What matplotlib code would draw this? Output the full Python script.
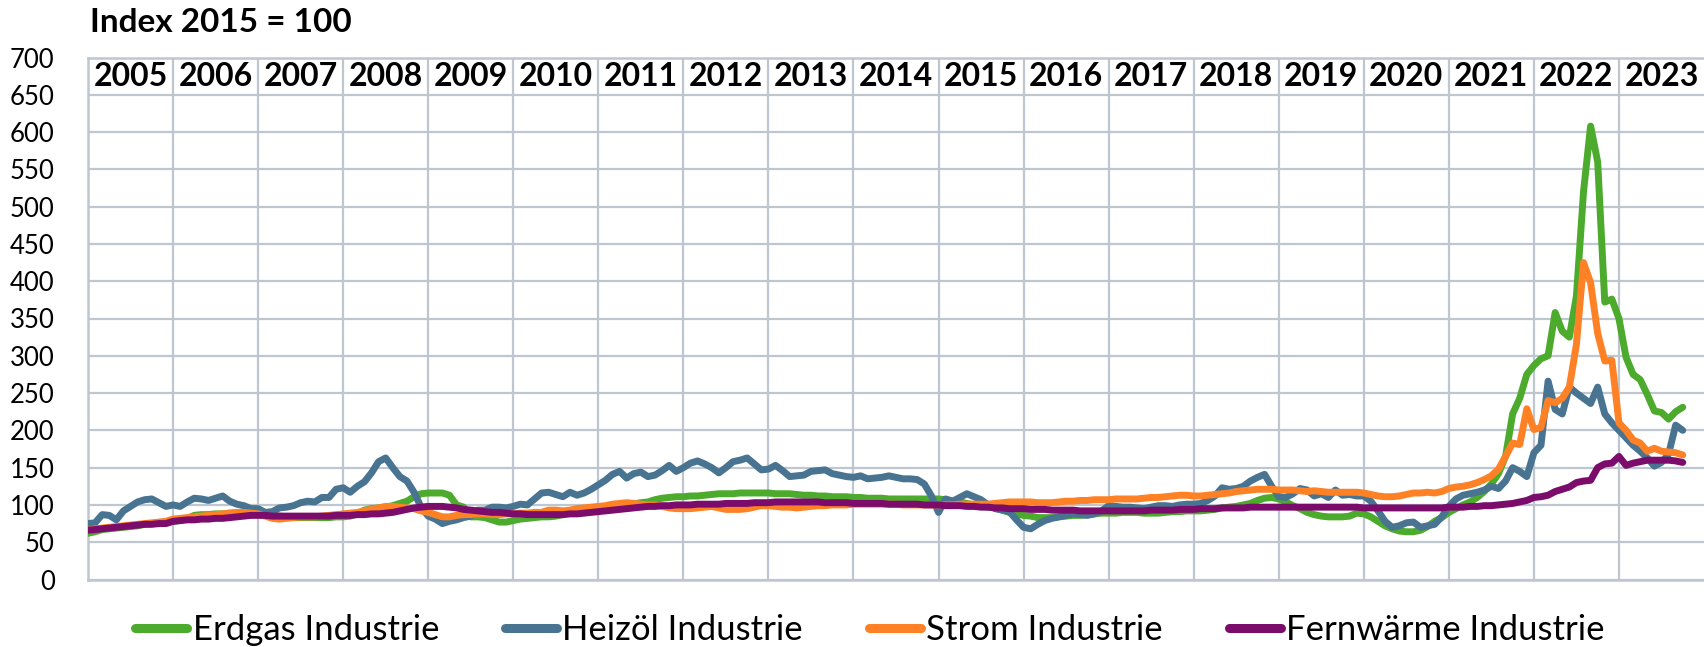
import numpy as np
import matplotlib
matplotlib.use("Agg")
import matplotlib.pyplot as plt
from matplotlib.lines import Line2D

plt.rcParams['font.family'] = ['Lato', 'DejaVu Sans']

# Monthly price indices (2015 = 100), January 2005 to October 2023
years = [str(y) for y in range(2005, 2024)]

erdgas = [
    62, 64, 67, 68, 69, 70, 71, 72, 74, 75, 76, 77,
    78, 79, 82, 86, 87, 87, 88, 88, 89, 89, 91, 92,
    90, 87, 86, 85, 84, 83, 83, 83, 83, 83, 83, 84,
    84, 85, 88, 93, 95, 96, 97, 99, 102, 105, 111, 115,
    116, 116, 116, 113, 100, 97, 84, 84, 83, 80, 77, 77,
    79, 81, 82, 83, 84, 84, 85, 87, 90, 91, 93, 94,
    95, 96, 98, 99, 100, 101, 103, 104, 107, 109, 110, 111,
    111, 112, 112, 113, 114, 115, 115, 115, 116, 116, 116, 116,
    116, 115, 115, 115, 114, 113, 113, 112, 112, 111, 111, 111,
    110, 110, 109, 109, 109, 108, 108, 108, 108, 108, 108, 108,
    108, 107, 105, 104, 102, 100, 99, 97, 96, 93, 90, 88,
    86, 85, 83, 83, 83, 84, 85, 86, 86, 87, 88, 89,
    89, 89, 90, 90, 90, 89, 89, 89, 90, 91, 91, 92,
    92, 92, 93, 94, 96, 97, 98, 100, 102, 106, 109, 110,
    108, 104, 99, 95, 90, 87, 85, 84, 84, 84, 85, 89,
    88, 84, 78, 72, 68, 65, 64, 64, 66, 71, 78, 83,
    90, 95, 100, 104, 110, 118, 128, 142, 165, 222, 243, 275,
    287, 296, 300, 358, 333, 325, 380, 520, 608, 560, 372, 376,
    350, 298, 275, 268, 248, 226, 224, 215, 225, 231,
]

heizoel = [
    75, 76, 87, 86, 80, 92, 98, 104, 107, 108, 103, 98,
    100, 98, 104, 109, 108, 106, 109, 112, 105, 101, 99, 95,
    95, 90, 91, 96, 97, 99, 103, 105, 104, 110, 110, 121,
    123, 117, 125, 131, 143, 158, 163, 150, 138, 132, 117, 97,
    85, 81, 75, 78, 80, 83, 85, 93, 93, 97, 97, 96,
    98, 101, 100, 108, 116, 117, 114, 111, 117, 113, 116, 121,
    127, 133, 141, 145, 136, 142, 144, 138, 140, 146, 153, 145,
    150, 156, 159, 155, 150, 143, 150, 158, 160, 163, 155, 147,
    148, 153, 146, 138, 139, 140, 145, 146, 147, 142, 140, 138,
    137, 139, 135, 136, 137, 139, 137, 135, 135, 134, 128, 112,
    90, 108, 105, 110, 115, 111, 107, 100, 95, 93, 91, 80,
    70, 68, 74, 79, 82, 84, 86, 88, 87, 86, 88, 92,
    99, 98, 97, 97, 96, 95, 97, 99, 99, 98, 100, 101,
    101, 102, 106, 112, 123, 121, 122, 125, 132, 137, 141, 125,
    111, 110, 115, 122, 120, 112, 115, 110, 120, 113, 114, 112,
    112, 105, 92, 78, 70, 72, 76, 77, 70, 72, 74, 84,
    98, 108, 113, 115, 117, 120, 125, 122, 132, 150, 145, 138,
    170, 180, 266, 228, 222, 258, 250, 243, 236, 258, 222, 210,
    200, 190, 180, 172, 163, 152, 157, 168, 207, 200,
]

strom = [
    66, 68, 69, 70, 71, 72, 73, 74, 75, 76, 77, 78,
    81, 82, 83, 84, 85, 86, 87, 88, 89, 90, 90, 89,
    88, 85, 82, 81, 82, 83, 84, 84, 84, 85, 86, 87,
    88, 89, 90, 92, 94, 96, 98, 98, 97, 96, 95, 92,
    90, 87, 84, 84, 86, 87, 87, 88, 88, 87, 87, 88,
    88, 89, 89, 90, 90, 93, 93, 92, 93, 95, 96, 97,
    98, 99, 101, 102, 103, 102, 101, 100, 100, 98, 96, 95,
    95, 95, 96, 97, 98, 96, 94, 94, 94, 95, 97, 99,
    99, 98, 97, 97, 96, 97, 98, 99, 99, 100, 100, 100,
    101, 101, 101, 101, 101, 101, 101, 100, 100, 100, 100, 100,
    100, 100, 100, 101, 101, 101, 101, 101, 102, 103, 104, 104,
    104, 104, 103, 103, 103, 104, 105, 105, 106, 106, 107, 107,
    107, 108, 108, 108, 108, 109, 110, 110, 111, 112, 113, 113,
    112, 112, 113, 114, 115, 116, 118, 119, 120, 121, 121, 121,
    120, 120, 120, 119, 118, 119, 118, 117, 117, 117, 117, 117,
    116, 114, 112, 111, 111, 112, 114, 116, 116, 117, 116, 118,
    122, 124, 125, 127, 130, 134, 139, 148, 165, 183, 181, 229,
    201, 204, 240, 237, 243, 258, 315, 425, 398, 330, 293, 294,
    210, 200, 187, 183, 172, 176, 172, 171, 170, 167,
]

fernwaerme = [
    66, 67, 68, 69, 70, 71, 72, 73, 74, 74, 75, 75,
    78, 79, 80, 80, 81, 81, 82, 82, 83, 84, 85, 86,
    86, 86, 85, 85, 85, 85, 85, 85, 85, 85, 85, 86,
    86, 86, 87, 87, 88, 88, 89, 90, 92, 94, 96, 97,
    98, 98, 98, 97, 96, 94, 93, 92, 91, 90, 90, 89,
    88, 88, 87, 87, 87, 87, 87, 87, 88, 88, 89, 90,
    91, 92, 93, 94, 95, 96, 97, 98, 98, 99, 99, 100,
    100, 100, 101, 101, 101, 101, 102, 102, 102, 102, 103, 103,
    103, 104, 104, 104, 104, 104, 104, 104, 103, 103, 103, 103,
    102, 102, 102, 102, 102, 101, 101, 101, 101, 101, 100, 100,
    100, 99, 99, 99, 98, 98, 97, 97, 96, 96, 95, 95,
    95, 94, 94, 94, 93, 93, 93, 93, 92, 92, 92, 92,
    92, 92, 92, 92, 92, 92, 93, 93, 93, 93, 94, 94,
    94, 95, 95, 95, 96, 96, 96, 96, 97, 97, 97, 97,
    97, 97, 97, 97, 97, 97, 97, 97, 97, 97, 97, 97,
    96, 96, 96, 96, 96, 96, 96, 96, 96, 96, 96, 96,
    97, 97, 97, 98, 98, 99, 99, 100, 101, 102, 104, 106,
    110, 111, 113, 118, 121, 124, 130, 132, 133, 150, 155, 156,
    165, 153, 156, 158, 160, 160, 160, 160, 159, 157,
]

series_names = ["Erdgas Industrie", "Heizöl Industrie", "Strom Industrie",
                "Fernwärme Industrie"]
series_values = [erdgas, heizoel, strom, fernwaerme]
series_colors = ["#4CAA2C", "#487391", "#FF8126", "#7B0C6B"]

grid_color = "#BEC7D0"
W, H = 1704, 647

fig = plt.figure(figsize=(W / 100, H / 100), dpi=100)
ax = fig.add_axes([88 / W, 67.5 / H, 1 - 88 / W, 522 / H])

n_months = 12 * len(years)
ax.set_xlim(0, n_months)
ax.set_ylim(0, 700)
ax.set_yticks(range(0, 701, 50))
ax.set_xticks(np.arange(0, n_months, 12))
ax.grid(True, color=grid_color, linewidth=1.6, zorder=0)
ax.tick_params(axis='both', length=0)
ax.tick_params(axis='x', labelbottom=False)
ax.tick_params(axis='y', labelsize=18.5, pad=24)
for side in ("left", "bottom", "top"):
    ax.spines[side].set_color(grid_color)
    ax.spines[side].set_linewidth(1.8)
ax.spines["right"].set_visible(False)

# year header row in the top band of the plot
for k, y in enumerate(years):
    ax.text(12 * k + 6, 675, y, ha="center", va="center",
            fontsize=23, fontweight="bold", color="black", zorder=5)

handles = []
for name, vals, col in zip(series_names, series_values, series_colors):
    x = np.arange(len(vals))
    ax.plot(x, vals, color=col, linewidth=5.0,
            solid_joinstyle="round", solid_capstyle="round",
            zorder=3, label=name)
    handles.append(Line2D([], [], color=col, linewidth=6.5,
                          solid_capstyle="round"))

fig.text(90 / W, 1 - 22 / H, "Index 2015 = 100", ha="left", va="center",
         fontsize=24, fontweight="bold")

fig.legend(handles, series_names, loc="center",
           bbox_to_anchor=(870 / W, 17 / H), ncol=4, frameon=False,
           fontsize=25, handlelength=1.5, handletextpad=0.15,
           columnspacing=1.9, borderpad=0, borderaxespad=0)

fig.savefig("out.png", dpi=100)
